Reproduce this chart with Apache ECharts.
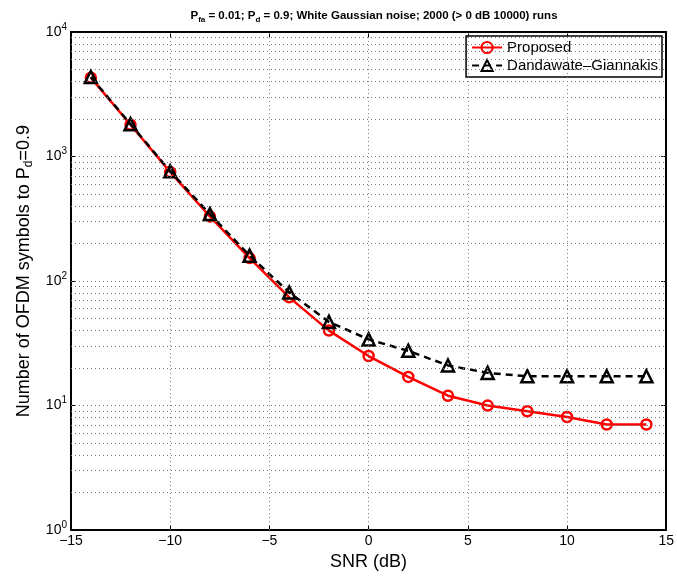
<!DOCTYPE html>
<html>
<head>
<meta charset="utf-8">
<script src="https://cdn.jsdelivr.net/npm/echarts@6/dist/echarts.min.js"></script>
<style>html,body{margin:0;padding:0;background:#fff}#c{width:677px;height:576px}</style>
</head>
<body>
<div id="c"></div>
<script>
const snr = [-14, -12, -10, -8, -6, -4, -2, 0, 2, 4, 6, 8, 10, 12, 14];
const proposed = [4300, 1800, 750, 330, 153, 74, 40, 25, 17, 12, 10, 9, 8.1, 7.05, 7.05];
const dandawate = [4350, 1820, 760, 345, 160, 81, 47, 34, 27.5, 21, 18.3, 17.2, 17.2, 17.2, 17.2];
const xTicks = [-15, -10, -5, 0, 5, 10, 15];
const yDecades = [1, 10, 100, 1000, 10000];
const minorMults = [2, 3, 4, 5, 6, 7, 8, 9];

const FONT = '"Liberation Sans", Arial, Helvetica, sans-serif';
const gridLines = [];
yDecades.slice(0, -1).forEach(d => {
  minorMults.forEach(m => gridLines.push({ yAxis: d * m }));
  if (d > 1) gridLines.push({ yAxis: d });
});
xTicks.slice(1, -1).forEach(v => gridLines.push({ xAxis: v }));

const chart = echarts.init(document.getElementById('c'), null, { renderer: 'canvas' });
const supRich = {
  b: { fontSize: 14, fontFamily: FONT, color: '#000' },
  s: { fontSize: 10, fontFamily: FONT, color: '#000', padding: [0, 0, 10, 0] }
};
chart.setOption({
  animation: false,
  backgroundColor: '#fff',
  title: {
    text: 'P{s|fa} = 0.01; P{s|d} = 0.9; White Gaussian noise; 2000 (> 0 dB 10000) runs',
    left: 369, top: 3, textAlign: 'center',
    textStyle: {
      fontSize: 11.5, fontWeight: 'bold', fontFamily: FONT, color: '#000',
      rich: {
        s: { fontSize: 8, fontWeight: 'bold', fontFamily: FONT, color: '#000', padding: [8, 0, 0, 0] }
      }
    }
  },
  grid: { left: 71, right: 10, top: 32, bottom: 45, containLabel: false },
  legend: {
    orient: 'vertical',
    right: 15, top: 36,
    backgroundColor: '#fff',
    borderColor: '#000', borderWidth: 1.5,
    padding: [4, 4, 4, 5],
    itemGap: 3,
    itemWidth: 30, itemHeight: 14,
    textStyle: { fontSize: 15, fontFamily: FONT, color: '#000' },
    data: ['Proposed', 'Dandawate\u2013Giannakis']
  },
  xAxis: [{
    type: 'value', min: -15, max: 15, interval: 5,
    name: 'SNR (dB)', nameLocation: 'middle', nameGap: 22,
    nameTextStyle: { fontSize: 18, fontFamily: FONT, color: '#000' },
    axisLine: { show: true, onZero: false, lineStyle: { color: '#000', width: 2 } },
    axisTick: { show: true, inside: true, length: 5, lineStyle: { color: '#000' } },
    axisLabel: { fontSize: 14, fontFamily: FONT, color: '#000', margin: 4,
      formatter: v => (v < 0 ? '\u2212' + Math.abs(v) : String(v)) },
    splitLine: { show: false }
  }, {
    type: 'value', min: -15, max: 15, interval: 5, position: 'top',
    axisLine: { show: true, onZero: false, lineStyle: { color: '#000', width: 2 } },
    axisTick: { show: true, inside: true, length: 5, lineStyle: { color: '#000' } },
    axisLabel: { show: false }, splitLine: { show: false }
  }],
  yAxis: [{
    type: 'log', logBase: 10, min: 1, max: 10000,
    name: 'Number of OFDM symbols to P{s|d}=0.9', nameLocation: 'middle', nameGap: 36,
    nameTextStyle: { fontSize: 18, fontFamily: FONT, color: '#000', padding: [0, 0, 0, 20],
      rich: { s: { fontSize: 12, fontFamily: FONT, color: '#000', padding: [10, 0, 0, 0] } } },
    axisLine: { show: true, onZero: false, lineStyle: { color: '#000', width: 2 } },
    axisTick: { show: true, inside: true, length: 5, lineStyle: { color: '#000' } },
    axisLabel: { margin: 4, rich: supRich,
      formatter: v => '{b|10}{s|' + Math.round(Math.log10(v)) + '}' },
    splitLine: { show: false }
  }, {
    type: 'log', logBase: 10, min: 1, max: 10000, position: 'right',
    axisLine: { show: true, onZero: false, lineStyle: { color: '#000', width: 2 } },
    axisTick: { show: true, inside: true, length: 5, lineStyle: { color: '#000' } },
    axisLabel: { show: false }, splitLine: { show: false }
  }],
  series: [{
    name: 'grid', type: 'line', data: [], silent: true,
    markLine: {
      silent: true, symbol: 'none', animation: false,
      label: { show: false },
      lineStyle: { color: '#777', width: 1, type: [1, 3] },
      emphasis: { disabled: true },
      data: gridLines
    }
  }, {
    name: 'Proposed', type: 'line',
    data: snr.map((x, i) => [x, proposed[i]]),
    symbol: 'circle', symbolSize: 10,
    lineStyle: { color: '#ff0000', width: 2.5 },
    itemStyle: { color: 'rgba(255,255,255,0)', borderColor: '#ff0000', borderWidth: 2.5 },
    z: 3
  }, {
    name: 'Dandawate\u2013Giannakis', type: 'line',
    data: snr.map((x, i) => [x, dandawate[i]]),
    symbol: 'triangle', symbolSize: 12,
    lineStyle: { color: '#000', width: 2.5, type: [7, 5] },
    itemStyle: { color: 'rgba(255,255,255,0)', borderColor: '#000', borderWidth: 2.5 },
    z: 4
  }]
});
</script>
</body>
</html>
